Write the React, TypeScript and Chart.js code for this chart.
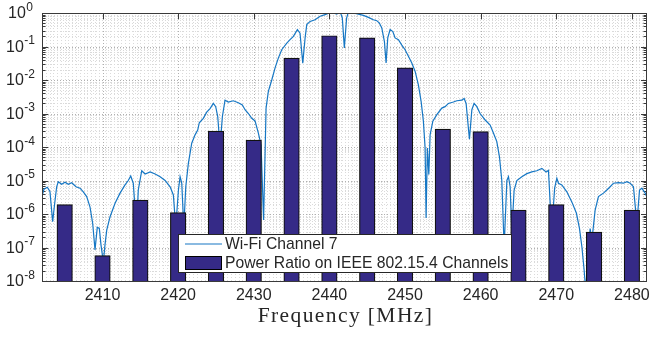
import React, { useEffect, useRef } from 'react';
import { Chart, registerables } from 'chart.js';

Chart.register(...registerables);

// IEEE 802.15.4 channel centre frequencies (MHz) and power ratios
const channelFreqs = [2405, 2410, 2415, 2420, 2425, 2430, 2435, 2440, 2445, 2450, 2455, 2460, 2465, 2470, 2475, 2480];
const channelPower = [1.9e-6, 5.7e-8, 2.6e-6, 1.1e-6, 3.0e-4, 1.6e-4, 4.5e-2, 0.21, 0.18, 0.023, 3.4e-4, 2.9e-4, 1.3e-6, 1.9e-6, 2.9e-7, 1.3e-6];

// Wi-Fi channel 7 spectrum (MHz, normalised power)
const wifiFreqs = [
  2402.0, 2402.26, 2402.7, 2403.05, 2403.41, 2403.68, 2403.94, 2404.15, 2404.6, 2405.04,
  2405.48, 2405.93, 2406.5, 2407.03, 2407.46, 2407.91, 2408.35, 2408.7, 2409.01, 2409.31,
  2409.58, 2409.8, 2410.11, 2410.33, 2410.56, 2411.0, 2411.66, 2412.32, 2412.98, 2413.41,
  2413.73, 2414.07, 2414.5, 2414.73, 2415.19, 2415.63, 2416.3, 2416.96, 2417.62, 2418.28,
  2418.94, 2419.37, 2419.69, 2420.04, 2420.26, 2420.48, 2420.75, 2421.01, 2421.35, 2421.8,
  2422.24, 2422.59, 2422.8, 2423.33, 2423.78, 2424.22, 2424.66, 2424.97, 2425.24, 2425.54,
  2425.85, 2426.2, 2426.64, 2427.3, 2427.96, 2428.49, 2428.85, 2429.29, 2429.74, 2430.17,
  2430.61, 2430.97, 2431.3, 2431.63, 2431.93, 2432.38, 2432.82, 2433.25, 2433.7, 2434.37,
  2434.8, 2435.24, 2435.77, 2436.12, 2436.48, 2436.79, 2437.01, 2437.45, 2438.11, 2438.77,
  2439.43, 2440.0, 2440.53, 2440.98, 2441.42, 2441.71, 2441.98, 2442.28, 2442.51, 2443.17,
  2443.84, 2444.5, 2445.16, 2445.82, 2446.27, 2446.61, 2446.93, 2447.28, 2447.5, 2447.72,
  2448.03, 2448.39, 2448.69, 2449.13, 2449.58, 2450.01, 2450.45, 2450.9, 2451.34, 2451.77,
  2452.13, 2452.43, 2452.66, 2452.79, 2452.96, 2453.15, 2453.32, 2453.68, 2454.21, 2454.87,
  2455.3, 2455.74, 2456.4, 2456.85, 2457.51, 2457.82, 2458.08, 2458.52, 2458.84, 2459.14,
  2459.5, 2459.93, 2460.6, 2461.26, 2461.69, 2462.14, 2462.49, 2462.8, 2463.11, 2463.47,
  2463.68, 2463.9, 2464.13, 2464.43, 2464.79, 2465.45, 2466.11, 2466.77, 2467.43, 2468.1,
  2468.66, 2468.97, 2469.39, 2469.79, 2470.08, 2470.29, 2470.74, 2471.4, 2472.06, 2472.67,
  2473.07, 2473.39, 2473.69, 2473.89, 2474.48, 2474.7, 2475.14, 2475.58, 2476.24, 2476.69,
  2477.13, 2477.57, 2478.23, 2478.89, 2479.34, 2479.77, 2480.21, 2480.66, 2481.01, 2481.32,
  2481.76, 2482.06,
];
const wifiPower = [
  3.3e-6, 5.5e-6, 6.3e-6, 4.7e-6, 5.9e-7, 2.1e-6, 6.5e-6, 9.2e-6, 7.7e-6, 8.9e-6,
  7.7e-6, 8.6e-6, 6.5e-6, 5.9e-6, 4.6e-6, 3.3e-6, 1.6e-6, 5.3e-7, 8.5e-8, 4.0e-7,
  3.7e-7, 1.2e-7, 3.7e-8, 1.2e-7, 3.3e-7, 8.3e-7, 2.1e-6, 4.2e-6, 7.4e-6, 1.0e-5,
  1.36e-5, 8.3e-6, 3.3e-7, 5.2e-6, 1.96e-5, 1.56e-5, 1.8e-5, 1.56e-5, 1.3e-5, 1.0e-5,
  6.5e-6, 3.7e-6, 4.0e-7, 5.2e-6, 1.3e-5, 8.3e-6, 4.0e-7, 6.5e-6, 3.2e-5, 1.3e-4,
  2.3e-4, 3.2e-4, 5.3e-4, 7.2e-4, 1.1e-3, 1.4e-3, 2.0e-3, 1.6e-3, 8.0e-4, 1.0e-4,
  8.0e-4, 2.5e-3, 2.2e-3, 2.4e-3, 2.1e-3, 1.8e-3, 1.3e-3, 1.0e-3, 7.2e-4, 6.0e-4,
  2.6e-4, 1.15e-4, 6.6e-7, 1.45e-3, 4.6e-3, 1.0e-2, 2.3e-2, 4.5e-2, 8.0e-2, 0.127,
  0.16, 0.2, 0.32, 0.25, 3.2e-2, 0.18, 0.45, 0.56, 0.63, 0.8,
  0.89, 1.0, 1.0, 0.93, 1.1, 0.71, 0.091, 0.71, 1.07, 1.0,
  0.93, 0.85, 0.74, 0.63, 0.59, 0.5, 0.36, 0.14, 0.032, 0.18,
  0.32, 0.28, 0.18, 0.16, 0.11, 0.08, 0.051, 0.032, 0.018, 7.2e-3,
  2.3e-3, 5.9e-4, 9.3e-5, 7.6e-7, 9.3e-5, 1.5e-5, 2.3e-4, 5.9e-4, 9.2e-4, 1.45e-3,
  1.6e-3, 2.0e-3, 2.2e-3, 2.4e-3, 2.5e-3, 2.8e-3, 2.0e-3, 1.7e-4, 1.3e-3, 2.0e-3,
  1.6e-3, 1.0e-3, 6.4e-4, 4.5e-4, 2.6e-4, 1.45e-4, 5.1e-5, 1.0e-5, 1.0e-7, 1.0e-5,
  1.3e-5, 6.5e-6, 3.0e-7, 5.2e-6, 1.0e-5, 1.3e-5, 1.6e-5, 1.8e-5, 1.95e-5, 2.3e-5,
  1.8e-5, 2.0e-5, 3.0e-7, 6.0e-6, 1.17e-5, 8.3e-6, 7.4e-6, 4.6e-6, 2.3e-6, 1.05e-6,
  3.7e-7, 1.05e-7, 2.1e-8, 5.4e-9, 3.7e-7, 1.5e-7, 1.3e-6, 3.3e-6, 4.2e-6, 5.2e-6,
  6.5e-6, 8.3e-6, 8.6e-6, 8.3e-6, 9.2e-6, 8.3e-6, 6.5e-6, 5.0e-7, 5.2e-6, 5.9e-6,
  4.2e-6, 2.9e-6,
];

const xTickValues = [2410, 2420, 2430, 2440, 2450, 2460, 2470, 2480];
const yTickExponents = [-8, -7, -6, -5, -4, -3, -2, -1, 0];
const seriesLabels = ['Wi-Fi Channel 7', 'Power Ratio on IEEE 802.15.4 Channels'];
const xAxisTitle = 'Frequency [MHz]';

const X_MIN = 2402;
const X_MAX = 2482;
const Y_MIN = 1e-8;
const Y_MAX = 1;

const LINE_COLOR = '#1677c4';
const BAR_COLOR = '#352A87';
const TEXT_COLOR = '#262626';
const AXIS_COLOR = '#3a3a3a';
const SANS = "'Liberation Sans', Arial, Helvetica, sans-serif";

function hLine(ctx: CanvasRenderingContext2D, x1: number, x2: number, y: number) {
  ctx.beginPath();
  ctx.moveTo(x1, y);
  ctx.lineTo(x2, y);
  ctx.stroke();
}
function vLine(ctx: CanvasRenderingContext2D, x: number, y1: number, y2: number) {
  ctx.beginPath();
  ctx.moveTo(x, y1);
  ctx.lineTo(x, y2);
  ctx.stroke();
}

const decorPlugin = {
  id: 'matlabDecor',
  beforeDatasetsDraw(chart: any) {
    const { ctx, chartArea: a, scales } = chart;
    const xs = scales.x;
    const ys = scales.y;
    ctx.save();
    ctx.beginPath();
    ctx.rect(a.left, a.top, a.right - a.left, a.bottom - a.top);
    ctx.clip();
    ctx.lineWidth = 1;
    ctx.setLineDash([1, 2]);

    // minor grid
    ctx.strokeStyle = '#dadada';
    const nMinor = Math.round((X_MAX - X_MIN) * 2);
    for (let i = 0; i <= nMinor; i++) {
      const f = X_MIN + i * 0.5;
      if (f % 10 === 0) continue;
      const px = Math.round(xs.getPixelForValue(f)) + 0.5;
      vLine(ctx, px, a.top, a.bottom);
    }
    for (const e of yTickExponents) {
      if (e === 0) continue;
      for (let m = 2; m <= 9; m++) {
        const py = Math.round(ys.getPixelForValue(m * Math.pow(10, e))) + 0.5;
        hLine(ctx, a.left, a.right, py);
      }
    }
    // major grid
    ctx.strokeStyle = '#b0b0b0';
    for (const t of xTickValues) {
      const px = Math.round(xs.getPixelForValue(t)) + 0.5;
      vLine(ctx, px, a.top, a.bottom);
    }
    for (const e of yTickExponents) {
      const py = Math.round(ys.getPixelForValue(Math.pow(10, e))) + 0.5;
      hLine(ctx, a.left, a.right, py);
    }
    ctx.restore();

    // tick marks (inward)
    ctx.save();
    ctx.strokeStyle = AXIS_COLOR;
    ctx.lineWidth = 1;
    for (const t of xTickValues) {
      const px = Math.round(xs.getPixelForValue(t)) + 0.5;
      vLine(ctx, px, a.top, a.top + 6);
      vLine(ctx, px, a.bottom, a.bottom - 6);
    }
    for (const e of yTickExponents) {
      const py = Math.round(ys.getPixelForValue(Math.pow(10, e))) + 0.5;
      hLine(ctx, a.left, a.left + 6, py);
      hLine(ctx, a.right, a.right - 6, py);
      if (e === 0) continue;
      for (let m = 2; m <= 9; m++) {
        const pm = Math.round(ys.getPixelForValue(m * Math.pow(10, e))) + 0.5;
        hLine(ctx, a.left, a.left + 3.5, pm);
        hLine(ctx, a.right, a.right - 3.5, pm);
      }
    }
    ctx.restore();
  },
  afterDatasetsDraw(chart: any) {
    const { ctx, chartArea: a, scales } = chart;
    const xs = scales.x;
    const ys = scales.y;
    ctx.save();
    // axes box
    ctx.strokeStyle = AXIS_COLOR;
    ctx.lineWidth = 1;
    ctx.setLineDash([]);
    ctx.strokeRect(Math.round(a.left) + 0.5, Math.round(a.top) + 0.5, Math.round(a.right - a.left) - 1, Math.round(a.bottom - a.top));

    // x tick labels
    ctx.fillStyle = TEXT_COLOR;
    ctx.font = `16px ${SANS}`;
    ctx.textAlign = 'center';
    ctx.textBaseline = 'alphabetic';
    for (const t of xTickValues) {
      ctx.fillText(String(t), xs.getPixelForValue(t), 300);
    }

    // y tick labels 10^n
    for (const e of yTickExponents) {
      const py = ys.getPixelForValue(Math.pow(10, e));
      const base = '10';
      const sup = String(e);
      ctx.font = `16px ${SANS}`;
      const wb = ctx.measureText(base).width;
      ctx.font = `12px ${SANS}`;
      const ws = ctx.measureText(sup).width;
      const total = wb + 0.5 + ws;
      const x0 = 20.5 - total / 2;
      ctx.textAlign = 'left';
      ctx.textBaseline = 'middle';
      ctx.font = `16px ${SANS}`;
      ctx.fillText(base, x0, py + 1);
      ctx.font = `12px ${SANS}`;
      ctx.fillText(sup, x0 + wb + 0.5, py - 5.5);
    }

    // x axis title
    ctx.font = `21.5px 'Liberation Serif', 'DejaVu Serif', serif`;
    try { (ctx as any).letterSpacing = '1.4px'; } catch (err) { /* ignore */ }
    ctx.textAlign = 'center';
    ctx.textBaseline = 'alphabetic';
    ctx.fillText(xAxisTitle, (a.left + a.right) / 2 + 1, 322);
    try { (ctx as any).letterSpacing = '0px'; } catch (err) { /* ignore */ }

    // legend
    const lx = 178.5, ly = 234.5, lw = 333, lh = 38;
    ctx.fillStyle = '#ffffff';
    ctx.fillRect(lx, ly, lw, lh);
    ctx.strokeStyle = TEXT_COLOR;
    ctx.lineWidth = 1;
    ctx.strokeRect(lx, ly, lw, lh);
    ctx.strokeStyle = LINE_COLOR;
    ctx.lineWidth = 1.2;
    hLine(ctx, 185, 222, 244);
    ctx.fillStyle = BAR_COLOR;
    ctx.fillRect(185.5, 256.5, 36, 13);
    ctx.strokeStyle = '#000';
    ctx.lineWidth = 1;
    ctx.strokeRect(185.5, 256.5, 36, 13);
    ctx.fillStyle = TEXT_COLOR;
    ctx.font = `15.7px ${SANS}`;
    ctx.textAlign = 'left';
    ctx.textBaseline = 'alphabetic';
    ctx.fillText(seriesLabels[0], 225, 249);
    ctx.fillText(seriesLabels[1], 225, 268);
    ctx.restore();
  },
};

export default function App() {
  const ref = useRef<HTMLCanvasElement>(null);
  useEffect(() => {
    const canvas = ref.current;
    if (!canvas) return;
    const chart = new Chart(canvas, {
      type: 'line',
      data: {
        datasets: [
          {
            type: 'bar',
            label: seriesLabels[1],
            data: channelFreqs.map((f, i) => ({ x: f, y: channelPower[i] })),
            backgroundColor: BAR_COLOR,
            borderColor: '#111111',
            borderWidth: 1.2,
            borderSkipped: 'start',
            barThickness: 15.5,
            order: 1,
          } as any,
          {
            type: 'line',
            label: seriesLabels[0],
            data: wifiFreqs.map((f, i) => ({ x: f, y: wifiPower[i] })),
            borderColor: LINE_COLOR,
            borderWidth: 1.2,
            pointRadius: 0,
            tension: 0,
            fill: false,
            order: 2,
          } as any,
        ],
      },
      options: {
        responsive: false,
        animation: false,
        devicePixelRatio: 1,
        events: [],
        layout: { padding: { left: 42, top: 13, right: 2, bottom: 58 } },
        scales: {
          x: { type: 'linear', min: X_MIN, max: X_MAX, display: false, offset: false },
          y: { type: 'logarithmic', min: Y_MIN, max: Y_MAX, display: false },
        },
        plugins: { legend: { display: false }, tooltip: { enabled: false } },
      } as any,
      plugins: [decorPlugin],
    });
    return () => chart.destroy();
  }, []);
  return (
    <div style={{ position: 'fixed', left: 0, top: 0, width: 649, height: 339, background: '#ffffff' }}>
      <canvas ref={ref} width={649} height={339} style={{ display: 'block', width: 649, height: 339 }} />
    </div>
  );
}
